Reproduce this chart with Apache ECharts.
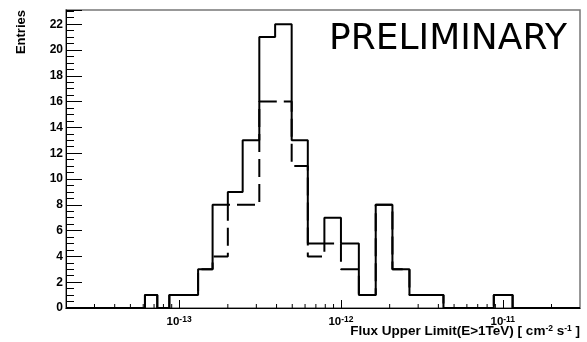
<!DOCTYPE html>
<html>
<head>
<meta charset="utf-8">
<script src="https://cdn.jsdelivr.net/npm/echarts@6/dist/echarts.min.js"></script>
<style>
html,body{margin:0;padding:0;background:#fff;}
#c{width:587px;height:342px;}
</style>
</head>
<body>
<div id="c"></div>
<script>
// Bin edges (flux, cm^-2 s^-1)
const binEdges = [6.15e-14, 7.33e-14, 8.7e-14, 1.31e-13, 1.61e-13, 2.0e-13, 2.47e-13, 3.13e-13,
  3.92e-13, 4.96e-13, 6.24e-13, 7.9e-13, 1.0e-12, 1.29e-12, 1.64e-12, 2.08e-12, 2.65e-12,
  4.3e-12, 8.8e-12, 1.15e-11];
// Entries per bin (solid histogram)
const solidCounts = [1, 0, 1, 3, 8, 9, 13, 21, 22, 13, 5, 7, 5, 1, 8, 3, 1, 0, 1];
// Entries per bin (dashed histogram)
const dashedCounts = [1, 0, 1, 3, 4, 8, 8, 16, 16, 11, 4, 5, 3, 1, 8, 3, 1, 0, 1];
// Axis ranges
const xRange = [2e-14, 3e-11];
const yRange = [0, 23.1];
const minorMultipliers = [2, 3, 4, 5, 6, 7, 8, 9];
const decades = [-14, -13, -12, -11];

const minorTickValues = [];
decades.forEach(d => minorMultipliers.forEach(m => {
  const v = m * Math.pow(10, d);
  if (v > xRange[0] && v < xRange[1]) minorTickValues.push([v, 0]);
}));

function stepPoints(edges, counts) {
  const pts = [[xRange[0], 0], [edges[0], 0]];
  counts.forEach((c, i) => {
    pts.push([edges[i], c]);
    pts.push([edges[i + 1], c]);
  });
  pts.push([edges[edges.length - 1], 0]);
  pts.push([xRange[1], 0]);
  return pts;
}

const chart = echarts.init(document.getElementById('c'), null, {renderer: 'canvas'});
const FONT = '"Liberation Sans", Arial, Helvetica, sans-serif';

chart.setOption({
  animation: false,
  backgroundColor: '#fff',
  grid: {
    left: 66, right: 7, top: 10, bottom: 34,
    show: true, borderColor: '#777', borderWidth: 1.5,
    containLabel: false, outerBoundsMode: 'none'
  },
  title: {
    text: 'Flux Upper Limit(E>1TeV) [ cm{s|-2} s{s|-1} ]',
    right: 7, top: 324,
    padding: 0,
    textStyle: {
      fontFamily: FONT, fontSize: 13.5, fontWeight: 'bold', color: '#000',
      lineHeight: 15,
      rich: {
        s: {fontFamily: FONT, fontSize: 8.5, fontWeight: 'bold', color: '#000', verticalAlign: 'top', lineHeight: 9}
      }
    }
  },
  xAxis: {
    type: 'log', logBase: 10,
    min: xRange[0], max: xRange[1],
    axisLine: {show: true, onZero: false, lineStyle: {color: '#000', width: 1}},
    axisTick: {show: true, inside: true, length: 8, lineStyle: {color: '#000', width: 1}},
    splitLine: {show: false},
    axisLabel: {
      showMinLabel: false, showMaxLabel: false,
      margin: 7,
      formatter: function (v) {
        const e = Math.round(Math.log10(v));
        return '{b|10}{s|' + e + '}';
      },
      rich: {
        b: {fontFamily: FONT, fontSize: 11.5, fontWeight: 'bold', color: '#000', lineHeight: 13, verticalAlign: 'bottom'},
        s: {fontFamily: FONT, fontSize: 8.5, fontWeight: 'bold', color: '#000', lineHeight: 9, verticalAlign: 'top'}
      }
    }
  },
  yAxis: {
    type: 'value',
    min: yRange[0], max: yRange[1], interval: 2,
    axisLine: {show: true, lineStyle: {color: '#000', width: 1}},
    axisTick: {show: true, inside: true, length: 16, lineStyle: {color: '#000', width: 1}},
    minorTick: {show: true, splitNumber: 4, length: 8, lineStyle: {color: '#000', width: 1}},
    splitLine: {show: false},
    axisLabel: {
      showMaxLabel: false,
      margin: 3,
      fontFamily: FONT, fontSize: 12, fontWeight: 'bold', color: '#000'
    }
  },
  graphic: [
    {
      type: 'text', x: 21, y: 10, rotation: Math.PI / 2,
      style: {text: 'Entries', fill: '#000', font: 'bold 13px ' + FONT, align: 'right', verticalAlign: 'middle'}
    },
    {
      type: 'text', x: 329, y: 40,
      style: {text: 'PRELIMINARY', fill: '#000', font: '36px "DejaVu Sans"', align: 'left', verticalAlign: 'middle'}
    }
  ],
  series: [
    {
      type: 'line', name: 'dashed', data: stepPoints(binEdges, dashedCounts),
      showSymbol: false, symbol: 'none',
      lineStyle: {color: '#000', width: 2, type: [18, 7]},
      z: 2
    },
    {
      type: 'line', name: 'solid', data: stepPoints(binEdges, solidCounts),
      showSymbol: false, symbol: 'none',
      lineStyle: {color: '#000', width: 2, type: 'solid'},
      z: 3
    },
    {
      type: 'custom', name: 'minorTicks', data: minorTickValues,
      renderItem: function (params, api) {
        const p = api.coord([api.value(0), 0]);
        return {type: 'line', shape: {x1: p[0], y1: p[1], x2: p[0], y2: p[1] - 4},
          style: {stroke: '#000', lineWidth: 1}};
      },
      silent: true, z: 4
    }
  ]
});
</script>
</body>
</html>
